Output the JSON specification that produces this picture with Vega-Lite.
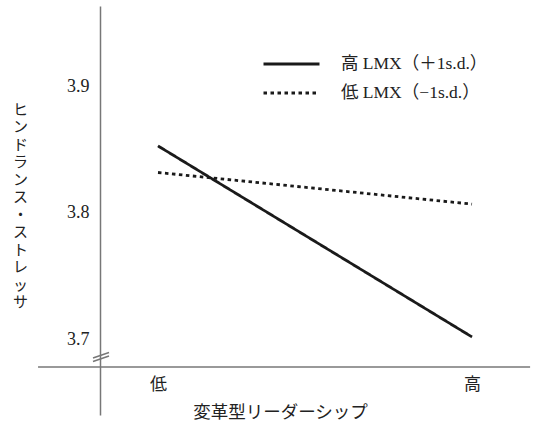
{
  "$schema": "https://vega.github.io/schema/vega-lite/v6.json",
  "width": 430,
  "height": 409,
  "autosize": {"type": "none"},
  "padding": {"left": 100, "top": 6, "right": 4, "bottom": 23},
  "background": "white",
  "config": {
    "view": {"stroke": null},
    "font": "Liberation Serif, Noto Sans CJK JP"
  },
  "datasets": {
    "lines": [
      {"leadership": 0, "stress": 3.853, "group": "高 LMX（＋1s.d.）"},
      {"leadership": 1, "stress": 3.702, "group": "高 LMX（＋1s.d.）"},
      {"leadership": 0, "stress": 3.832, "group": "低 LMX（−1s.d.）"},
      {"leadership": 1, "stress": 3.807, "group": "低 LMX（−1s.d.）"}
    ],
    "frame": [
      {"leadership": -0.382, "leadership2": 1.185, "stress": 3.6783, "stress2": 3.6783},
      {"leadership": -0.207, "leadership2": -0.156, "stress": 3.6854, "stress2": 3.6897},
      {"leadership": -0.207, "leadership2": -0.156, "stress": 3.6826, "stress2": 3.6870}
    ]
  },
  "encoding": {
    "x": {
      "field": "leadership",
      "type": "quantitative",
      "scale": {"domain": [-0.1847, 1.1847], "nice": false, "zero": false},
      "axis": {
        "values": [0, 1],
        "labelExpr": "datum.value == 0 ? '低' : '高'",
        "offset": -48,
        "domain": false,
        "ticks": false,
        "grid": false,
        "labelPadding": 9,
        "labelFontSize": 17,
        "labelColor": "#222",
        "title": "変革型リーダーシップ",
        "titleFontSize": 17.5,
        "titleFontWeight": "normal",
        "titleColor": "#222",
        "titleX": 180,
        "titleY": 45,
        "titleAlign": "center",
        "titleBaseline": "middle"
      }
    },
    "y": {
      "field": "stress",
      "type": "quantitative",
      "scale": {"domain": [3.6403, 3.9636], "nice": false, "zero": false},
      "axis": {
        "values": [3.7, 3.8, 3.9],
        "format": ".1f",
        "ticks": false,
        "grid": false,
        "labelPadding": 11,
        "labelFontSize": 18,
        "labelColor": "#222",
        "domainColor": "#777",
        "domainWidth": 1.5,
        "title": ["ヒ", "ン", "ド", "ラ", "ン", "ス", "・", "ス", "ト", "レ", "ッ", "サ"],
        "titleAngle": 0,
        "titleX": -80,
        "titleY": 96,
        "titleAlign": "center",
        "titleBaseline": "top",
        "titleLineHeight": 17.5,
        "titleFontSize": 15,
        "titleFontWeight": "normal",
        "titleColor": "#222"
      }
    }
  },
  "layer": [
    {
      "data": {"name": "frame"},
      "mark": {"type": "rule", "color": "#777", "strokeWidth": 1.5},
      "encoding": {
        "x2": {"field": "leadership2"},
        "y2": {"field": "stress2"}
      }
    },
    {
      "data": {"name": "lines"},
      "mark": {"type": "line", "strokeWidth": 2.8, "color": "#1a1a1a"},
      "encoding": {
        "strokeDash": {
          "field": "group",
          "type": "nominal",
          "scale": {
            "domain": ["高 LMX（＋1s.d.）", "低 LMX（−1s.d.）"],
            "range": [[1, 0], [3.5, 3.5]]
          },
          "legend": {
            "orient": "none",
            "legendX": 162,
            "legendY": 48,
            "title": null,
            "padding": 0,
            "symbolType": "stroke",
            "symbolSize": 3136,
            "symbolStrokeWidth": 2.8,
            "symbolStrokeColor": "#1a1a1a",
            "labelFontSize": 17.5,
            "labelOffset": 20,
            "labelColor": "#222",
            "clipHeight": 20,
            "rowPadding": 9
          }
        }
      }
    }
  ]
}
